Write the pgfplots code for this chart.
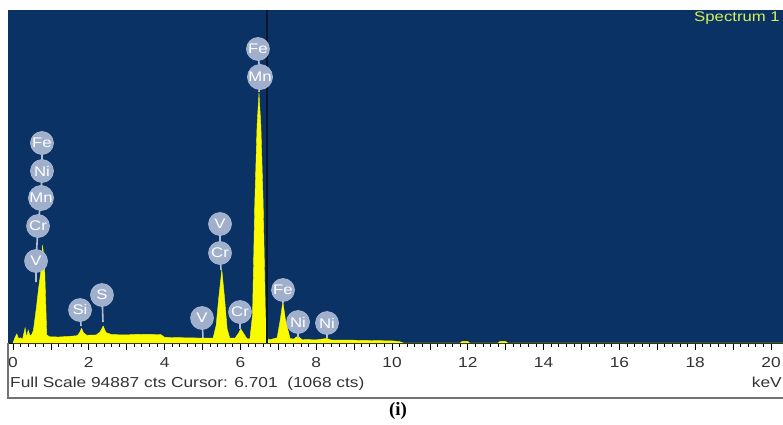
\documentclass[border=0pt]{standalone}
\usepackage{pgfplots}
\pgfplotsset{compat=1.18}
\usepackage{fontspec}
\setmainfont{Liberation Sans}
\newfontfamily\arialx[FakeStretch=1.2]{Liberation Sans}
\newfontfamily\timesb{Liberation Serif}
\definecolor{bg}{RGB}{10,50,100}
\definecolor{specyellow}{RGB}{250,250,0}
\definecolor{badgefill}{RGB}{160,176,204}
\definecolor{stemcol}{RGB}{175,190,215}
\definecolor{cursorcol}{RGB}{8,22,45}
\definecolor{spectxt}{RGB}{215,240,90}
\tikzset{
  badge/.style={circle, fill=badgefill, draw=badgefill!85!white, line width=0.6bp, minimum size=23bp, inner sep=0pt,
    text=white, font=\arialx\fontsize{14}{15}\selectfont},
  stem/.style={stemcol, line width=1.6bp}
}
\begin{document}
\begin{tikzpicture}[x=1bp,y=1bp]
\path[use as bounding box] (0,0) rectangle (783,424);
\begin{axis}[
  at={(8bp,81bp)}, anchor=south west,
  scale only axis, width=775bp, height=333bp,
  xmin=-0.132, xmax=20.317, ymin=0, ymax=94905,
  axis background/.style={fill=bg},
  hide y axis,
  axis x line*=bottom,
  x axis line style={-, black, line width=0.8bp},
  tick align=outside,
  xtick={0,2,...,20},
  minor x tick num=9,
  extra x ticks={1,3,...,19},
  extra x tick labels={},
  major tick length=7bp,
  minor tick length=4bp,
  every tick/.style={black, line width=0.8bp},
  /pgf/number format/assume math mode=true,
  xticklabel style={font=\arialx\fontsize{14.5}{16}\selectfont, text=black!80, yshift=-4bp},
  clip=false,
]
\addplot[fill=specyellow, draw=specyellow, line width=0.4bp] coordinates {
(0.00,0) (0.05,1500) (0.10,2600) (0.15,1200) (0.20,1500) (0.25,1000) (0.32,4300) (0.36,1500)
(0.40,3700) (0.45,2000) (0.50,2500) (0.54,3700) (0.62,10300) (0.67,15100) (0.74,20800)
(0.78,27900) (0.83,22800) (0.89,2400) (0.95,1800) (1.20,1700) (1.50,1900) (1.70,2100)
(1.76,3000) (1.81,4200) (1.86,2900) (1.95,2200) (2.20,2300) (2.30,3200) (2.38,4850)
(2.45,3000) (2.60,2400) (3.00,2300) (3.30,2500) (3.90,2400) (4.00,1600) (4.50,1500)
(5.00,1400) (5.28,1400) (5.36,5000) (5.43,13000) (5.51,20800) (5.58,13000) (5.65,4000)
(5.72,1400) (5.86,1400) (5.95,2800) (6.01,4000) (6.08,2800) (6.17,1300) (6.25,1100)
(6.32,8000) (6.38,40000) (6.44,62000) (6.49,71250) (6.54,62000) (6.60,40000) (6.66,8000)
(6.73,1068) (6.80,1000) (6.97,1500) (7.05,6500) (7.12,11800) (7.19,6500) (7.31,1300)
(7.40,1100) (7.52,2000) (7.62,1000) (8.00,900) (8.28,1300) (8.40,850) (9.00,800)
(10.00,600) (10.20,400) (10.30,0) (11.80,0) (11.85,450) (12.00,450) (12.05,0)
(12.80,0) (12.85,450) (13.00,450) (13.05,0) (20.317,0)
} \closedcycle;
\addplot[cursorcol, line width=1.5bp] coordinates {(6.701,0) (6.701,94905)};
% stems
\draw[stem] (0.765,57000) -- (0.765,49020) -- (0.739,41325) -- (0.66,33345) -- (0.607,23370) -- (0.607,17385);
\draw[stem] (6.464,83790) -- (6.517,75810) -- (6.49,71535);
\draw[stem] (5.462,33915) -- (5.462,25650) -- (5.488,20805);
\draw[stem] (1.768,9405) -- (1.794,4845);
\draw[stem] (2.348,13680) -- (2.375,5985);
\draw[stem] (4.987,7125) -- (5.013,1425);
\draw[stem] (5.99,8835) -- (5.99,3990);
\draw[stem] (7.124,15105) -- (7.124,11400);
\draw[stem] (7.52,5985) -- (7.52,1425);
\draw[stem] (8.285,5700) -- (8.285,1425);
% badges
\node[badge] at (0.765,57000) {Fe};
\node[badge] at (0.765,49020) {Ni};
\node[badge] at (0.739,41325) {Mn};
\node[badge] at (0.66,33345) {Cr};
\node[badge] at (0.607,23370) {V};
\node[badge] at (6.464,83790) {Fe};
\node[badge] at (6.517,75810) {Mn};
\node[badge] at (5.462,33915) {V};
\node[badge] at (5.462,25650) {Cr};
\node[badge] at (1.768,9405) {Si};
\node[badge] at (2.348,13680) {S};
\node[badge] at (4.987,7125) {V};
\node[badge] at (5.99,8835) {Cr};
\node[badge] at (7.124,15105) {Fe};
\node[badge] at (7.52,5985) {Ni};
\node[badge] at (8.285,5700) {Ni};
\end{axis}
\node[anchor=base east, text=spectxt, font=\arialx\fontsize{14}{16}\selectfont, inner sep=0pt] at (780,402) {Spectrum 1};
\node[anchor=base west, text=black!80, font=\arialx\fontsize{14.5}{16}\selectfont, inner sep=0pt] at (10,37) {Full Scale 94887 cts Cursor: 6.701\ \ (1068 cts)};
\node[anchor=base east, text=black!80, font=\arialx\fontsize{14.5}{16}\selectfont, inner sep=0pt] at (782,37) {keV};
\draw[black!55, line width=1.3bp] (8,81) -- (8,26) -- (785,26);
\node[anchor=base, font=\timesb\bfseries\fontsize{19}{21}\selectfont, inner sep=0pt] at (398,9) {(i)};
\end{tikzpicture}
\end{document}
